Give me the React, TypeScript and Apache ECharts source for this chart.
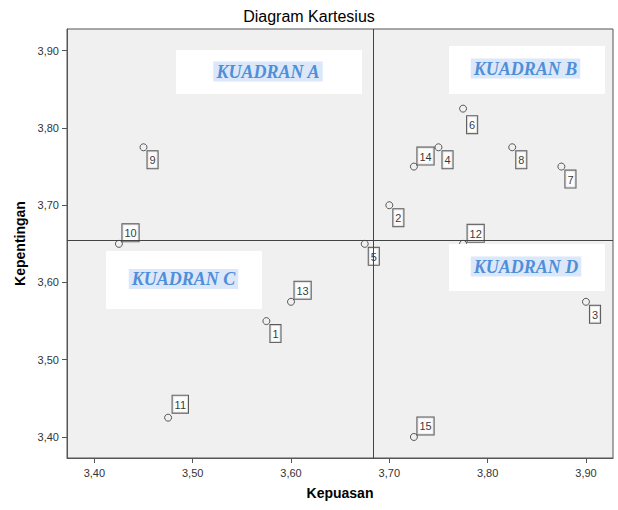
import React, { useEffect, useRef } from "react";
import * as echarts from "echarts";

// ---- Data ----
const ids = [1, 2, 3, 4, 5, 6, 7, 8, 9, 10, 11, 12, 13, 14, 15];
const kepuasan = [3.575, 3.7, 3.9, 3.75, 3.675, 3.775, 3.875, 3.825, 3.45, 3.425, 3.475, 3.775, 3.6, 3.725, 3.725];
const kepentingan = [3.55, 3.7, 3.575, 3.775, 3.65, 3.825, 3.75, 3.775, 3.775, 3.65, 3.425, 3.65, 3.575, 3.75, 3.4];
const xTicks = [3.4, 3.5, 3.6, 3.7, 3.8, 3.9];
const yTicks = [3.4, 3.5, 3.6, 3.7, 3.8, 3.9];
const quadrantNames = ["KUADRAN A", "KUADRAN B", "KUADRAN C", "KUADRAN D"];

// ---- Style config (label placement per point id) ----
const labelAbove: Record<number, [number, number]> = {
  10: [4, -2],
  11: [5, -4.5],
  12: [5, -1.5],
  13: [4, -2.5],
  14: [4, -1.5],
  15: [4, -2],
};
const labelBelow: Record<number, [number, number]> = {
  6: [4.5, 8],
};

const quadrantBoxes = [
  { x: 176, y: 50, w: 186, h: 44 },
  { x: 449, y: 46, w: 156, h: 48 },
  { x: 106, y: 251, w: 156, h: 58 },
  { x: 449, y: 244, w: 156, h: 47 },
];
const quadrantTextPos = [
  [268, 71.5],
  [525.5, 68.5],
  [183.5, 279],
  [526, 266.5],
];

const fmt = (v: number) => v.toFixed(2).replace(".", ",");
const mean = (a: number[]) => a.reduce((s, v) => s + v, 0) / a.length;

export default function App() {
  const ref = useRef<HTMLDivElement>(null);

  useEffect(() => {
    document.body.style.margin = "0";
    if (!ref.current) return;
    const chart = echarts.init(ref.current, null, { renderer: "svg" });
    const R = 3.5; // half symbol size

    const data = ids.map((id, i) => {
      let label: any;
      if (labelAbove[id]) {
        const [dx, dy] = labelAbove[id];
        label = { position: [R + dx, R + dy], align: "left", verticalAlign: "bottom" };
      } else {
        const [dx, dy] = labelBelow[id] || [4.5, 4.5];
        label = { position: [R + dx, R + dy], align: "left", verticalAlign: "top" };
      }
      return { value: [kepuasan[i], kepentingan[i], id], label };
    });

    const graphics: any[] = [];
    quadrantNames.forEach((name, i) => {
      const b = quadrantBoxes[i];
      graphics.push({
        type: "rect",
        shape: { x: b.x, y: b.y, width: b.w, height: b.h },
        style: { fill: "#ffffff" },
        z: 100,
      });
      graphics.push({
        type: "text",
        x: quadrantTextPos[i][0],
        y: quadrantTextPos[i][1],
        z: 101,
        style: {
          text: name,
          fill: "#4f8fd8",
          fontFamily: '"Liberation Serif", "Times New Roman", serif',
          fontStyle: "italic",
          fontWeight: "bold",
          fontSize: 18,
          align: "center",
          verticalAlign: "middle",
          backgroundColor: "#dce8f9",
          padding: [1, 3],
        },
      });
    });

    chart.setOption({
      animation: false,
      textStyle: { fontFamily: '"Liberation Sans", Arial, sans-serif' },
      title: {
        text: "Diagram Kartesius",
        left: "center",
        top: 8,
        padding: 0,
        textStyle: { fontSize: 16, fontWeight: "normal", color: "#000" },
      },
      grid: {
        left: 67,
        right: 5,
        top: 29,
        bottom: 52,
        show: true,
        backgroundColor: "#f0f0f0",
        borderColor: "#555",
        borderWidth: 1,
      },
      xAxis: {
        type: "value",
        min: 3.3722,
        max: 3.9275,
        name: "Kepuasan",
        nameLocation: "middle",
        nameGap: 28,
        nameTextStyle: { fontSize: 14, fontWeight: "bold", color: "#000" },
        splitLine: { show: false },
        axisLine: { show: true, lineStyle: { color: "#555", width: 1 } },
        axisTick: { show: true, length: 5, lineStyle: { color: "#555" }, customValues: xTicks },
        axisLabel: { fontSize: 11, color: "#333", margin: 9, formatter: fmt, customValues: xTicks },
      },
      yAxis: {
        type: "value",
        min: 3.3728,
        max: 3.9281,
        name: "Kepentingan",
        nameLocation: "middle",
        nameGap: 38,
        nameTextStyle: { fontSize: 14, fontWeight: "bold", color: "#000" },
        splitLine: { show: false },
        axisLine: { show: true, lineStyle: { color: "#555", width: 1 } },
        axisTick: { show: true, length: 5, lineStyle: { color: "#555" }, customValues: yTicks },
        axisLabel: { fontSize: 11, color: "#333", margin: 8, formatter: fmt, customValues: yTicks },
      },
      series: [
        {
          type: "scatter",
          symbol: "circle",
          symbolSize: 7,
          itemStyle: { color: "rgba(0,0,0,0)", borderColor: "#333", borderWidth: 1 },
          data,
          label: {
            show: true,
            formatter: (p: any) => String(p.value[2]),
            fontSize: 11,
            color: "#000",
            backgroundColor: "#fff",
            borderColor: "#333",
            borderWidth: 1,
            padding: [3, 2, 2, 2],
            lineHeight: 12,
          },
          markLine: {
            silent: true,
            symbol: "none",
            precision: 6,
            label: { show: false },
            lineStyle: { color: "#444", type: "solid", width: 1 },
            data: [{ xAxis: mean(kepuasan) }, { yAxis: mean(kepentingan) }],
          },
        },
      ],
      graphic: graphics,
    });

    return () => chart.dispose();
  }, []);

  return <div ref={ref} style={{ width: 618, height: 510 }} />;
}
